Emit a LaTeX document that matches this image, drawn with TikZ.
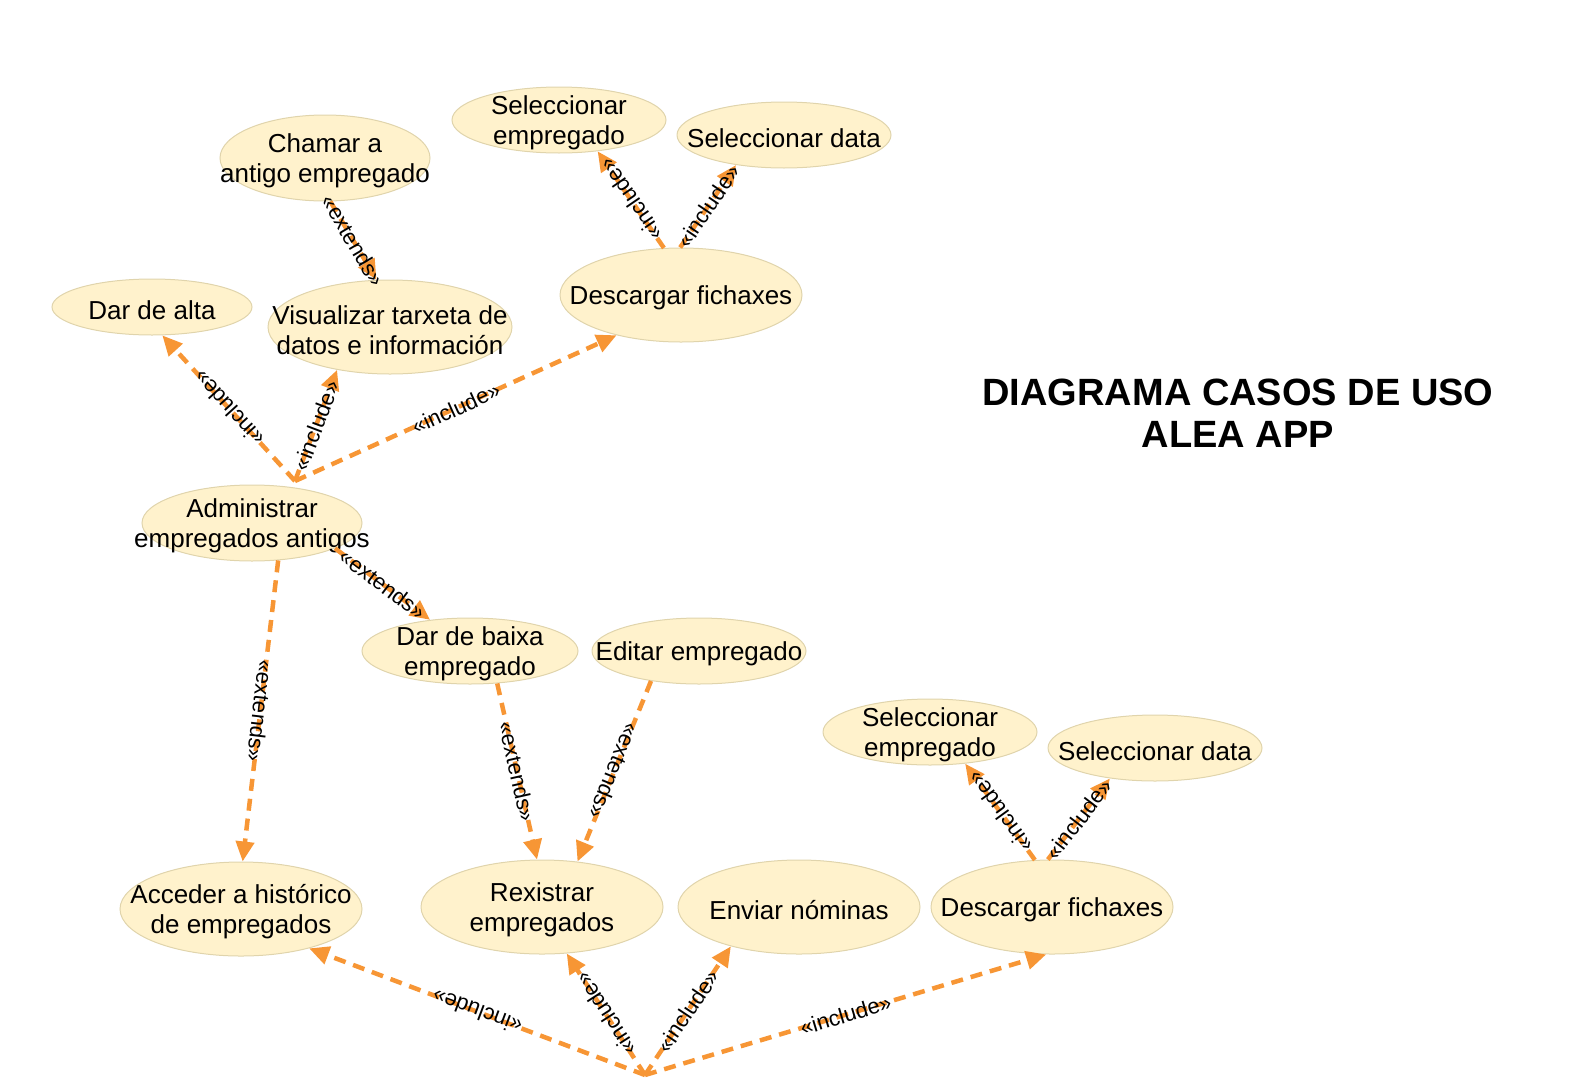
\documentclass[tikz,border=0pt]{standalone}
\usepackage{fontspec}
\setmainfont{Liberation Sans}
\usetikzlibrary{shapes.geometric,arrows.meta}
\definecolor{ucfill}{RGB}{255,242,204}
\definecolor{ucline}{RGB}{224,212,172}
\definecolor{relorange}{RGB}{247,150,53}
\begin{document}
\begin{tikzpicture}[x=1pt,y=-1pt,
      usecase/.style={ellipse,draw=ucline,fill=ucfill,line width=1pt,inner sep=0pt},
      uctext/.style={align=center,yshift=-3pt,font=\fontsize{26}{30}\selectfont},
      rel/.style={relorange,line width=4.5pt,dash pattern=on 12pt off 8pt,
        -{Triangle[length=20pt,width=18pt]}},
      lbl/.style={sloped,allow upside down,midway,inner sep=1pt,text=black,
        font=\fontsize{22}{24}\selectfont}]
  \useasboundingbox (0,0) rectangle (1571,1079);
  % casos de uso, parte superior
  \node[usecase,minimum width=210pt,minimum height=86pt,
    label={[uctext]center:Chamar a\\antigo empregado}] (chamar) at (325,158) {};
  \node[usecase,minimum width=214pt,minimum height=66pt,
    label={[uctext]center:Seleccionar\\empregado}] (selempA) at (559,120) {};
  \node[usecase,minimum width=214pt,minimum height=66pt,
    label={[uctext]center:Seleccionar data}] (seldataA) at (784,135) {};
  \node[usecase,minimum width=200pt,minimum height=56pt,
    label={[uctext]center:Dar de alta}] (alta) at (152,307) {};
  \node[usecase,minimum width=244pt,minimum height=94pt,
    label={[uctext]center:Visualizar tarxeta de\\datos e información}] (tarxeta) at (390,327) {};
  \node[usecase,minimum width=242pt,minimum height=94pt,
    label={[uctext]center:Descargar fichaxes}] (fichaxesA) at (681,295) {};
  \node[usecase,minimum width=220pt,minimum height=76pt,
    label={[uctext]center:Administrar\\empregados antigos}] (admin) at (252,523) {};
  % casos de uso, parte inferior
  \node[usecase,minimum width=216pt,minimum height=66pt,
    label={[uctext]center:Dar de baixa\\empregado}] (baixa) at (470,651) {};
  \node[usecase,minimum width=214pt,minimum height=66pt,
    label={[uctext]center:Editar empregado}] (editar) at (699,651) {};
  \node[usecase,minimum width=214pt,minimum height=66pt,
    label={[uctext]center:Seleccionar\\empregado}] (selempB) at (930,732) {};
  \node[usecase,minimum width=214pt,minimum height=66pt,
    label={[uctext]center:Seleccionar data}] (seldataB) at (1155,748) {};
  \node[usecase,minimum width=242pt,minimum height=94pt,
    label={[uctext]center:Acceder a histórico\\de empregados}] (historico) at (241,909) {};
  \node[usecase,minimum width=242pt,minimum height=94pt,
    label={[uctext]center:Rexistrar\\empregados}] (rexistrar) at (542,907) {};
  \node[usecase,minimum width=242pt,minimum height=94pt,
    label={[uctext]center:Enviar nóminas}] (nominas) at (799,907) {};
  \node[usecase,minimum width=242pt,minimum height=94pt,
    label={[uctext]center:Descargar fichaxes}] (fichaxesB) at (1052,907) {};
  \coordinate (adminhub) at (295,481);
  \coordinate (bottomhub) at (645,1075);
  % titulo
  \node[align=center,font=\bfseries\fontsize{38}{42}\selectfont] (title) at (1238,413)
    {DIAGRAMA CASOS DE USO\\ALEA APP};
  % relacions
  \draw[rel] (chamar.-83) -- node[lbl]{«extends»} (tarxeta.106);
  \draw[rel] (fichaxesA.110) -- node[lbl]{«include»} (selempA.-39);
  \draw[rel] (fichaxesA.91) -- node[lbl]{«include»} (seldataA.-148);
  \draw[rel] (adminhub) -- node[lbl]{«include»} (alta.-70);
  \draw[rel] (adminhub) -- node[lbl]{«include»} (tarxeta.-141);
  \draw[rel] (adminhub) -- node[lbl]{«include»} (fichaxesA.-148);
  \draw[rel] (admin.-17) -- node[lbl]{«extends»} (baixa.142);
  \draw[rel] (admin.-55) -- node[lbl]{«extends»} (historico.88);
  \draw[rel] (baixa.-50) -- node[lbl]{«extends»} (rexistrar.96);
  \draw[rel] (editar.-148) -- node[lbl]{«extends»} (rexistrar.52);
  \draw[rel] (fichaxesB.110) -- node[lbl]{«include»} (selempB.-42);
  \draw[rel] (fichaxesB.95) -- node[lbl]{«include»} (seldataB.-146);
  \draw[rel] (bottomhub) -- node[lbl]{«include»} (historico.-30);
  \draw[rel] (bottomhub) -- node[lbl]{«include»} (rexistrar.-62);
  \draw[rel] (bottomhub) -- node[lbl]{«include»} (nominas.-150);
  \draw[rel] (bottomhub) -- node[lbl]{«include»} (fichaxesB.-97);
\end{tikzpicture}
\end{document}
